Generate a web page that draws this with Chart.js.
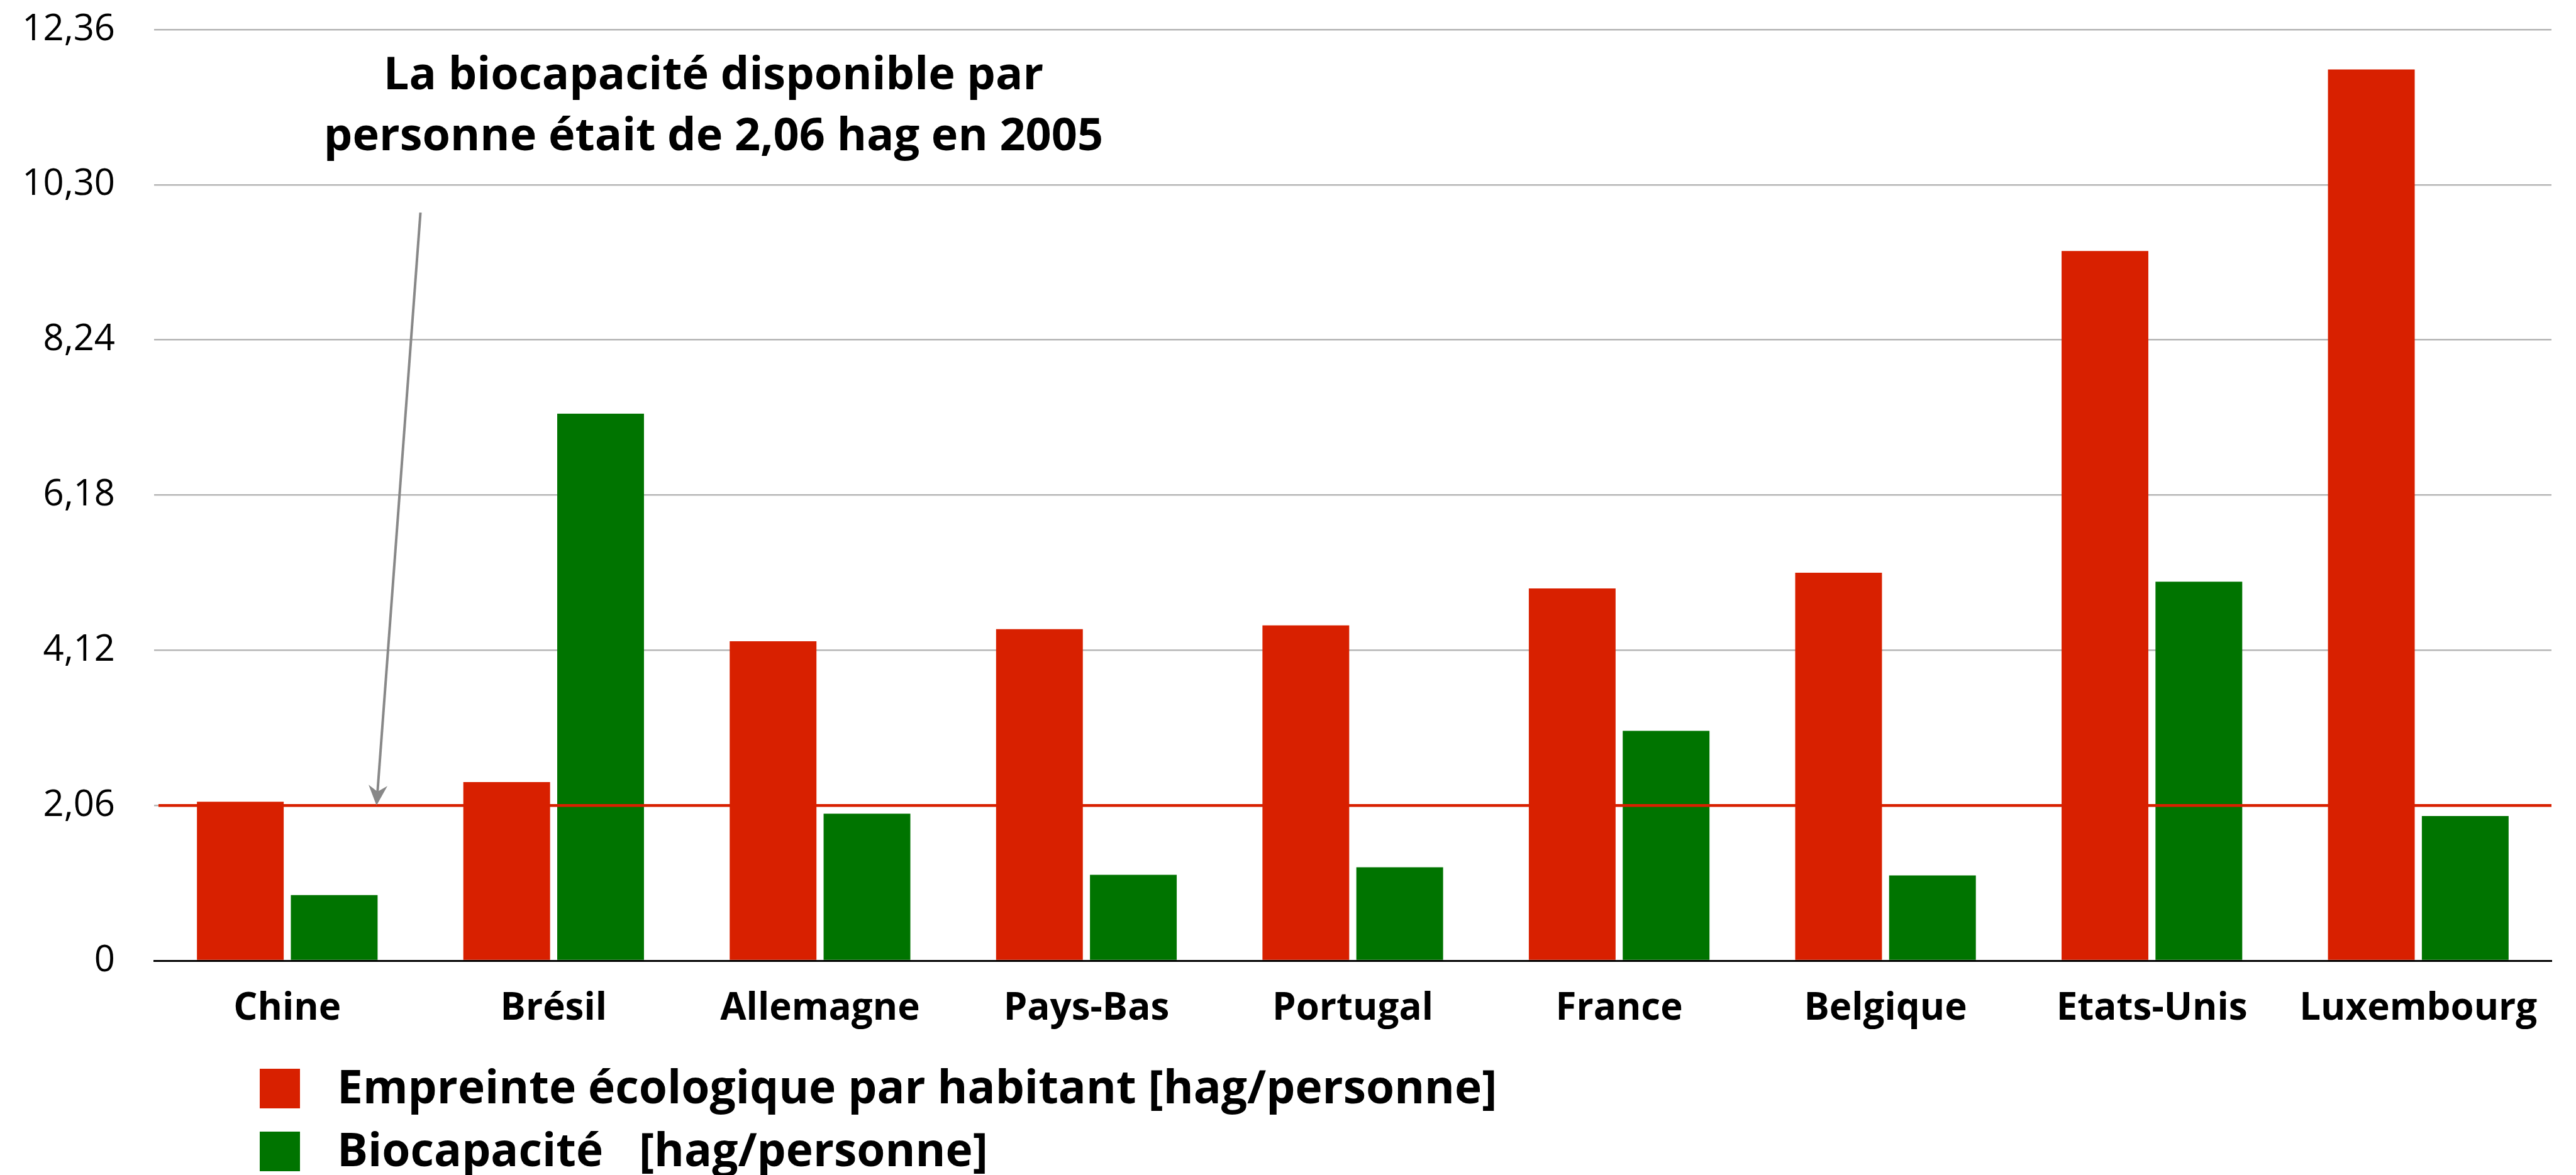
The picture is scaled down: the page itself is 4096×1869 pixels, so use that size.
<!DOCTYPE html>
<html>
<head>
<meta charset="utf-8">
<script src="https://cdn.jsdelivr.net/npm/chart.js@4.4.1/dist/chart.umd.min.js"></script>
<style>
  html, body { margin: 0; padding: 0; background: #fff; }
</style>
</head>
<body>
<canvas id="chart" width="4096" height="1869"></canvas>
<script>
// data
const countries = ['Chine', 'Brésil', 'Allemagne', 'Pays-Bas', 'Portugal', 'France', 'Belgique', 'Etats-Unis', 'Luxembourg'];
const empreinte = [2.11, 2.37, 4.24, 4.40, 4.45, 4.94, 5.15, 9.42, 11.83];
const biocapacite = [0.87, 7.26, 1.95, 1.14, 1.24, 3.05, 1.13, 5.03, 1.92];
const yTicks = [0, 2.06, 4.12, 6.18, 8.24, 10.30, 12.36];
const yTickLabels = ['0', '2,06', '4,12', '6,18', '8,24', '10,30', '12,36'];
const seriesNames = ['Empreinte écologique par habitant [hag/personne]', 'Biocapacité   [hag/personne]'];
const biocapDispo = 2.06;
const noteLines = ['La biocapacité disponible par', 'personne était de 2,06 hag en 2005'];

const colors = ['#d82000', '#007400'];

// red line at 2,06 drawn over the bars
const refLine = {
    id: 'refLine',
    afterDatasetsDraw(chart) {
        const ctx = chart.ctx, area = chart.chartArea;
        const y = chart.scales.y.getPixelForValue(biocapDispo);
        ctx.save();
        ctx.strokeStyle = colors[0];
        ctx.lineWidth = 4.5;
        ctx.beginPath();
        ctx.moveTo(area.left + 7, y);
        ctx.lineTo(area.right, y);
        ctx.stroke();
        ctx.restore();
    }
};

// text note + arrow pointing at the line
const note = {
    id: 'note',
    afterDatasetsDraw(chart) {
        const ctx = chart.ctx, x = chart.scales.x, y = chart.scales.y;
        ctx.save();
        ctx.fillStyle = '#000';
        ctx.font = 'bold 72px "Open Sans"';
        ctx.textAlign = 'center';
        ctx.textBaseline = 'alphabetic';
        const cx = x.getPixelForValue(1.6);
        ctx.fillText(noteLines[0], cx, y.getPixelForValue(11.57));
        ctx.fillText(noteLines[1], cx, y.getPixelForValue(10.76));

        const x0 = x.getPixelForValue(0.5), y0 = y.getPixelForValue(9.93);
        const x1 = x.getPixelForValue(0.335), y1 = y.getPixelForValue(biocapDispo);
        const ang = Math.atan2(y1 - y0, x1 - x0);
        const len = 32, half = 15, notch = 22;
        ctx.strokeStyle = '#888';
        ctx.fillStyle = '#888';
        ctx.lineWidth = 4;
        ctx.beginPath();
        ctx.moveTo(x0, y0);
        ctx.lineTo(x1 - notch * Math.cos(ang), y1 - notch * Math.sin(ang));
        ctx.stroke();
        ctx.translate(x1, y1);
        ctx.rotate(ang);
        ctx.beginPath();
        ctx.moveTo(0, 0);
        ctx.lineTo(-len, -half);
        ctx.lineTo(-notch, 0);
        ctx.lineTo(-len, half);
        ctx.closePath();
        ctx.fill();
        ctx.restore();
    }
};

// legend stacked under the axis
const stackLegend = {
    id: 'stackLegend',
    afterDraw(chart) {
        const ctx = chart.ctx;
        ctx.save();
        ctx.font = 'bold 73px "Open Sans"';
        ctx.textBaseline = 'middle';
        ctx.textAlign = 'left';
        chart.data.datasets.forEach((ds, i) => {
            const cy = 1731 + i * 100;
            ctx.fillStyle = ds.backgroundColor;
            ctx.fillRect(413, cy - 31, 64, 63);
            ctx.fillStyle = '#000';
            ctx.fillText(ds.label, 536, cy + 3);
        });
        ctx.restore();
    }
};

new Chart(document.getElementById('chart'), {
    type: 'bar',
    data: {
        labels: countries,
        datasets: [
            { label: seriesNames[0], data: empreinte, backgroundColor: colors[0], categoryPercentage: 0.705, barPercentage: 0.924 },
            { label: seriesNames[1], data: biocapacite, backgroundColor: colors[1], categoryPercentage: 0.705, barPercentage: 0.924 }
        ]
    },
    options: {
        responsive: false,
        animation: false,
        devicePixelRatio: 1,
        layout: { padding: { top: 47, right: 39, bottom: 221, left: 0 } },
        plugins: {
            legend: { display: false },
            tooltip: { enabled: false }
        },
        scales: {
            x: {
                grid: { display: false, drawTicks: false },
                border: { display: true, color: '#000', width: 3 },
                ticks: { color: '#000', font: { family: 'Open Sans', weight: 'bold', size: 60 }, padding: 41, maxRotation: 0 },
                afterFit: s => { s.height = 120; }
            },
            y: {
                min: 0,
                max: 12.36,
                afterBuildTicks: s => { s.ticks = yTicks.map(v => ({ value: v })); },
                grid: {
                    color: c => c.tick && c.tick.value === 0 ? '#000' : '#b5b5b5',
                    lineWidth: 2.5,
                    drawTicks: false
                },
                border: { display: false },
                ticks: {
                    callback: (v, i) => yTickLabels[i],
                    color: '#000',
                    font: { family: 'Open Sans', size: 58 },
                    padding: 62
                },
                afterFit: s => {
                    s.width = 245;
                    s.paddingTop = 0;
                    s.paddingBottom = 0;
                }
            }
        }
    },
    plugins: [refLine, note, stackLegend]
});
</script>
</body>
</html>
